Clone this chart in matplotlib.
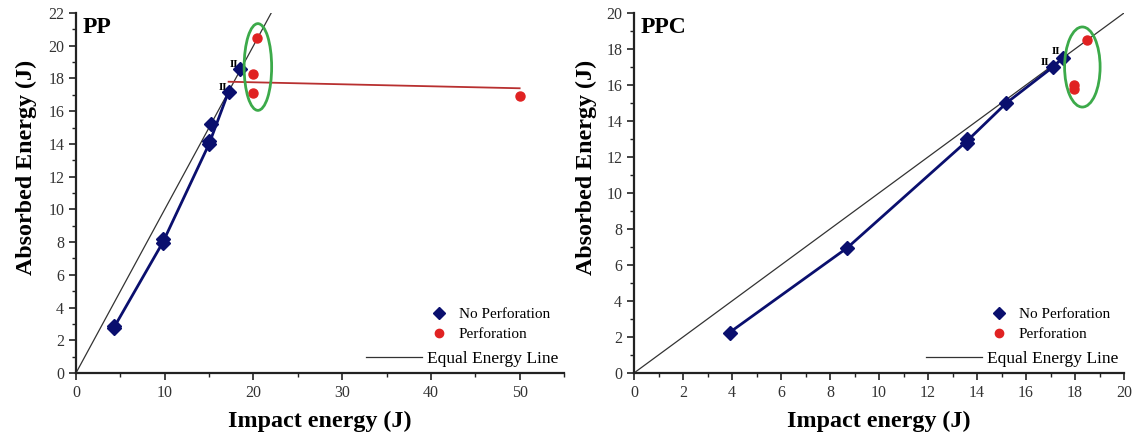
import matplotlib
matplotlib.use("Agg")
import matplotlib.pyplot as plt
from matplotlib.patches import Ellipse
from matplotlib.lines import Line2D
from matplotlib.ticker import MultipleLocator

plt.rcParams['font.family'] = ['Liberation Serif', 'DejaVu Serif']

# PP panel data
pp_np_x = [4.3, 4.3, 9.8, 9.8, 15.0, 15.0, 15.2, 17.2, 18.5]
pp_np_y = [2.75, 2.9, 7.95, 8.2, 14.0, 14.2, 15.2, 17.2, 18.6]
pp_line_x = [4.3, 9.8, 15.0, 17.2]
pp_line_y = [2.8, 8.0, 14.0, 17.2]
pp_p_x = [20.4, 20.0, 20.0, 50.0]
pp_p_y = [20.5, 18.3, 17.1, 16.9]
pp_red_x = [17.2, 50.0]
pp_red_y = [17.8, 17.4]
pp_equal = [0, 22.1]

# PPC panel data
ppc_np_x = [3.9, 8.7, 13.6, 13.6, 15.2, 17.1, 17.5]
ppc_np_y = [2.25, 6.95, 12.8, 13.0, 15.0, 17.0, 17.5]
ppc_line_x = [3.9, 8.7, 13.6, 15.2, 17.1, 17.5]
ppc_line_y = [2.25, 6.95, 12.9, 15.0, 17.0, 17.5]
ppc_p_x = [18.5, 17.95, 17.95]
ppc_p_y = [18.5, 15.8, 16.0]
ppc_equal = [0, 20]

navy = '#0a0f6e'
red = '#e02222'
green = '#3caa4a'

fig = plt.figure(figsize=(11.32, 4.36), dpi=100)
ax1 = fig.add_axes([76/1132, 63/436, 488/1132, 360/436])
ax2 = fig.add_axes([634/1132, 63/436, 490/1132, 360/436])


def style(ax, xmax, ymax, xmaj, xmin, ylab_x):
    ax.set_xlim(0, xmax)
    ax.set_ylim(0, ymax)
    ax.xaxis.set_major_locator(MultipleLocator(xmaj))
    ax.xaxis.set_minor_locator(MultipleLocator(xmin))
    ax.yaxis.set_major_locator(MultipleLocator(2))
    ax.yaxis.set_minor_locator(MultipleLocator(1))
    for s in ['top', 'right']:
        ax.spines[s].set_visible(False)
    for s in ['left', 'bottom']:
        ax.spines[s].set_linewidth(1.6)
        ax.spines[s].set_color('#222222')
    ax.tick_params(which='major', direction='out', length=5, width=1.2,
                   labelsize=11.5, labelcolor='#333333', color='#222222')
    ax.tick_params(which='minor', direction='out', length=3, width=1.0, color='#222222')
    ax.set_xlabel('Impact energy (J)', fontsize=17.3, fontweight='bold', labelpad=7)
    ax.set_ylabel('Absorbed Energy (J)', fontsize=17.3, fontweight='bold')
    ax.yaxis.set_label_coords(ylab_x, 0.57)


def legends(ax):
    h1 = [Line2D([], [], ls='none', marker='D', color=navy, markersize=6),
          Line2D([], [], ls='none', marker='o', color=red, markersize=6)]
    lg = ax.legend(h1, ['No Perforation', 'Perforation'], loc='lower right',
                   bbox_to_anchor=(1.0, 0.05), frameon=False, fontsize=11,
                   handlelength=1.0, handletextpad=0.8, labelspacing=0.42)
    ax.add_artist(lg)
    h2 = [Line2D([], [], color='#333333', lw=0.9)]
    ax.legend(h2, ['Equal Energy Line'], loc='lower right',
              bbox_to_anchor=(1.02, -0.028), frameon=False, fontsize=12.5,
              handlelength=3.2, handletextpad=0.3)


# PP
style(ax1, 55, 22, 10, 5, -0.08)
ax1.plot(pp_equal, pp_equal, color='#333333', lw=0.9, zorder=2)
ax1.plot(pp_line_x, pp_line_y, color=navy, lw=2, zorder=3)
ax1.plot(pp_red_x, pp_red_y, color='#b83030', lw=1.3, zorder=3)
ax1.plot(pp_np_x, pp_np_y, ls='none', marker='D', color=navy, markersize=7, zorder=4)
ax1.plot(pp_p_x, pp_p_y, ls='none', marker='o', color=red, markersize=6.5, zorder=4)
ax1.add_patch(Ellipse((20.5, 18.7), 3.1, 5.3, fill=False, ec=green, lw=2, zorder=5))
ax1.text(17.0, 17.2, 'II', fontsize=8, fontweight='bold', ha='right', va='bottom')
ax1.text(18.3, 18.6, 'II', fontsize=8, fontweight='bold', ha='right', va='bottom')
ax1.text(0.014, 0.99, 'PP', transform=ax1.transAxes, fontsize=17,
         fontweight='bold', va='top', ha='left')
legends(ax1)

# PPC
style(ax2, 20, 20, 2, 1, -0.076)
ax2.plot(ppc_equal, ppc_equal, color='#333333', lw=0.9, zorder=2)
ax2.plot(ppc_line_x, ppc_line_y, color=navy, lw=2, zorder=3)
ax2.plot(ppc_np_x, ppc_np_y, ls='none', marker='D', color=navy, markersize=7, zorder=4)
ax2.plot(ppc_p_x, ppc_p_y, ls='none', marker='o', color=red, markersize=6.5, zorder=4)
ax2.add_patch(Ellipse((18.3, 17.0), 1.45, 4.45, fill=False, ec=green, lw=2, zorder=5))
ax2.text(16.95, 17.0, 'II', fontsize=8, fontweight='bold', ha='right', va='bottom')
ax2.text(17.4, 17.6, 'II', fontsize=8, fontweight='bold', ha='right', va='bottom')
ax2.text(0.014, 0.99, 'PPC', transform=ax2.transAxes, fontsize=17,
         fontweight='bold', va='top', ha='left')
legends(ax2)

fig.savefig('out.png', dpi=100)
